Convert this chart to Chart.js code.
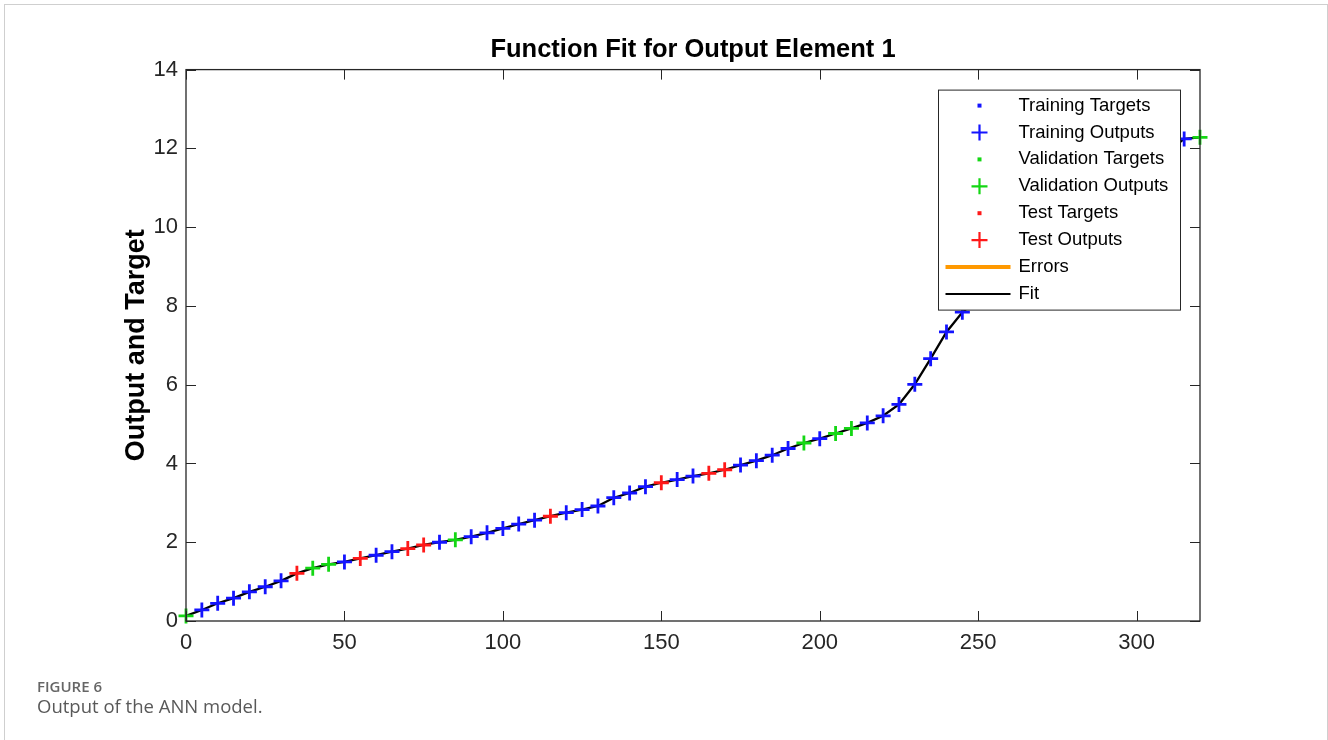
<!DOCTYPE html>
<html>
<head>
<meta charset="utf-8">
<script src="https://cdn.jsdelivr.net/npm/chart.js@4.4.1/dist/chart.umd.min.js"></script>
<style>
  html, body { margin: 0; padding: 0; background: #fff; overflow: hidden; }
  #frame { position: absolute; left: 4px; top: 4px; width: 1324px; height: 800px; border: 1px solid #cfcfcf; box-sizing: border-box; }
  #fitChart { position: absolute; left: 0; top: 0; }
  .cap1 { position: absolute; left: 37px; top: 679px; font: 600 15px/1 "Open Sans", sans-serif; color: #666; }
  .cap2 { position: absolute; left: 37px; top: 697px; font: 400 18.5px/1 "Open Sans", sans-serif; color: #595959; }
</style>
</head>
<body>
<div id="frame"></div>
<canvas id="fitChart" width="1328" height="740"></canvas>
<div class="cap1">FIGURE 6</div>
<div class="cap2">Output of the ANN model.</div>
<script>
// Sample positions (only the ones visible outside the legend box)
const xValues = [0, 5, 10, 15, 20, 25, 30, 35, 40, 45, 50, 55, 60, 65, 70, 75, 80, 85, 90, 95,
  100, 105, 110, 115, 120, 125, 130, 135, 140, 145, 150, 155, 160, 165, 170, 175, 180, 185, 190, 195,
  200, 205, 210, 215, 220, 225, 230, 235, 240, 245, 315, 320];

// Network outputs
const outputs = [0.13, 0.28, 0.45, 0.58, 0.74, 0.87, 1.02, 1.21, 1.34, 1.44, 1.50, 1.59, 1.67, 1.76, 1.84, 1.93, 2.00, 2.06, 2.14, 2.24,
  2.35, 2.46, 2.56, 2.66, 2.75, 2.83, 2.92, 3.13, 3.25, 3.41, 3.51, 3.59, 3.68, 3.75, 3.84, 3.96, 4.07, 4.21, 4.38, 4.52,
  4.63, 4.76, 4.89, 5.03, 5.21, 5.50, 6.01, 6.66, 7.34, 7.84, 12.24, 12.28];

// Which subset each sample belongs to
const subsets = ['val', 'train', 'train', 'train', 'train', 'train', 'train', 'test', 'val', 'val',
  'train', 'test', 'train', 'train', 'test', 'test', 'train', 'val', 'train', 'train',
  'train', 'train', 'train', 'test', 'train', 'train', 'train', 'train', 'train', 'train',
  'test', 'train', 'train', 'test', 'test', 'train', 'train', 'train', 'train', 'val',
  'train', 'val', 'val', 'train', 'train', 'train', 'train', 'train', 'train', 'train',
  'train', 'val'];

// Visible error bar (target -> output)
const errorX = [225, 225];
const errorY = [5.38, 5.50];

const xTicks = { min: 0, max: 320, step: 50 };
const yTicks = { min: 0, max: 14, step: 2 };

const BLUE = 'rgb(20,20,255)';
const GREEN = 'rgb(20,215,20)';
const RED = 'rgb(255,25,25)';
const ORANGE = 'rgb(255,153,0)';
const AXIS = '#262626';
const FONT = '"Liberation Sans", Arial, sans-serif';

function pointsFor(kind) {
  return xValues.map((x, i) => subsets[i] === kind ? { x: x, y: outputs[i] } : null).filter(p => p);
}

function crossSet(label, kind, color) {
  return {
    label: label,
    data: pointsFor(kind),
    showLine: false,
    pointStyle: 'cross',
    pointRadius: 7.5,
    pointBorderWidth: 2.8,
    pointBorderColor: color,
    pointBackgroundColor: color,
    clip: false
  };
}

// box + inward ticks, then the legend on top of the data
const matlabAxes = {
  id: 'matlabAxes',
  afterDatasetsDraw(chart) {
    const { ctx, chartArea: a, scales } = chart;
    ctx.save();
    ctx.strokeStyle = AXIS;
    ctx.lineWidth = 1.3;
    ctx.strokeRect(a.left, a.top, a.right - a.left, a.bottom - a.top);
    ctx.lineWidth = 1;
    ctx.beginPath();
    scales.x.ticks.forEach(t => {
      const px = Math.round(scales.x.getPixelForValue(t.value)) + 0.5;
      ctx.moveTo(px, a.bottom); ctx.lineTo(px, a.bottom - 10);
      ctx.moveTo(px, a.top); ctx.lineTo(px, a.top + 10);
    });
    scales.y.ticks.forEach(t => {
      const py = Math.round(scales.y.getPixelForValue(t.value)) + 0.5;
      ctx.moveTo(a.left, py); ctx.lineTo(a.left + 10, py);
      ctx.moveTo(a.right, py); ctx.lineTo(a.right - 10, py);
    });
    ctx.stroke();

    // legend
    const bx = a.right - 261.5, by = a.top + 20.5, bw = 242, bh = 220;
    ctx.fillStyle = '#fff';
    ctx.fillRect(bx, by, bw, bh);
    ctx.strokeStyle = AXIS;
    ctx.lineWidth = 1;
    ctx.strokeRect(bx, by, bw, bh);
    const entries = [
      { text: 'Training Targets', type: 'dot', color: BLUE },
      { text: 'Training Outputs', type: 'cross', color: BLUE },
      { text: 'Validation Targets', type: 'dot', color: GREEN },
      { text: 'Validation Outputs', type: 'cross', color: GREEN },
      { text: 'Test Targets', type: 'dot', color: RED },
      { text: 'Test Outputs', type: 'cross', color: RED },
      { text: 'Errors', type: 'line', color: ORANGE, width: 4 },
      { text: 'Fit', type: 'line', color: '#000', width: 2 }
    ];
    const mx = bx + 41, tx = bx + 80;
    ctx.font = '18.5px ' + FONT;
    ctx.textBaseline = 'middle';
    ctx.textAlign = 'left';
    entries.forEach((e, i) => {
      const y = by + 15.5 + i * 26.9;
      ctx.strokeStyle = e.color;
      ctx.fillStyle = e.color;
      if (e.type === 'dot') {
        ctx.fillRect(mx - 2, y - 2, 4, 4);
      } else if (e.type === 'cross') {
        ctx.lineWidth = 2.2;
        ctx.beginPath();
        ctx.moveTo(mx - 8, y); ctx.lineTo(mx + 8, y);
        ctx.moveTo(mx, y - 8); ctx.lineTo(mx, y + 8);
        ctx.stroke();
      } else {
        ctx.lineWidth = e.width;
        ctx.beginPath();
        ctx.moveTo(bx + 7, y); ctx.lineTo(bx + 72, y);
        ctx.stroke();
      }
      ctx.fillStyle = '#000';
      ctx.fillText(e.text, tx, y);
    });
    ctx.restore();
  }
};

const ctxFit = document.getElementById('fitChart').getContext('2d');
const fitChart = new Chart(ctxFit, {
  type: 'scatter',
  data: {
    datasets: [
      crossSet('Training Outputs', 'train', BLUE),
      crossSet('Validation Outputs', 'val', GREEN),
      crossSet('Test Outputs', 'test', RED),
      {
        label: 'Errors',
        data: errorX.map((x, i) => ({ x: x, y: errorY[i] })),
        showLine: true,
        borderColor: ORANGE,
        borderWidth: 2,
        pointRadius: 0
      },
      {
        label: 'Fit',
        data: xValues.map((x, i) => ({ x: x, y: outputs[i] })),
        showLine: true,
        borderColor: '#000',
        borderWidth: 2.3,
        pointRadius: 0,
        tension: 0,
        clip: false
      }
    ]
  },
  options: {
    responsive: false,
    animation: false,
    layout: { padding: { left: 0, right: 128, top: 0, bottom: 0 } },
    plugins: {
      legend: { display: false },
      tooltip: { enabled: false },
      title: {
        display: true,
        fullSize: false,
        text: 'Function Fit for Output Element 1',
        color: '#000',
        font: { family: FONT, size: 25.5, weight: 'bold' },
        padding: { top: 35, bottom: 4 }
      }
    },
    scales: {
      x: {
        type: 'linear',
        min: xTicks.min,
        max: xTicks.max,
        afterFit: s => { s.height = 119; },
        grid: { display: false, drawTicks: false },
        border: { display: false },
        ticks: { stepSize: xTicks.step, includeBounds: false, color: AXIS, padding: 9, font: { family: FONT, size: 22 } }
      },
      y: {
        min: yTicks.min,
        max: yTicks.max,
        afterFit: s => { s.width = 186; },
        grid: { display: false, drawTicks: false },
        border: { display: false },
        ticks: { stepSize: yTicks.step, color: AXIS, padding: 8, font: { family: FONT, size: 22 } },
        title: {
          display: true,
          text: 'Output and Target',
          color: '#000',
          font: { family: FONT, size: 27, weight: 'bold' },
          padding: { top: 120.5 }
        }
      }
    }
  },
  plugins: [matlabAxes]
});
</script>
</body>
</html>
